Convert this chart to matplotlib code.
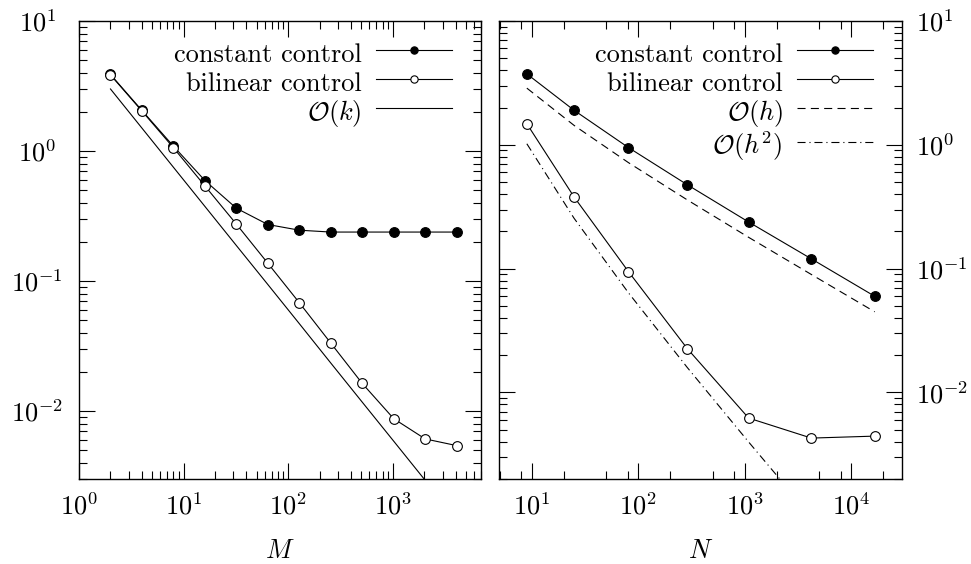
import numpy as np
import matplotlib
matplotlib.use("Agg")
import matplotlib.pyplot as plt
from matplotlib.ticker import LogLocator, NullFormatter

# left panel: error vs number of time steps M
M = [2, 4, 8, 16, 32, 64, 128, 256, 512, 1024, 2048, 4096]
err_const_M = [3.88, 2.05, 1.09, 0.593, 0.363, 0.272, 0.246, 0.238, 0.238, 0.238, 0.238, 0.238]
err_bilin_M = [3.85, 2.03, 1.06, 0.539, 0.274, 0.137, 0.0681, 0.0333, 0.0163, 0.00873, 0.00610, 0.00542]
ref_k = [3.0, 1.5, 0.75, 0.375, 0.1875, 0.094, 0.047, 0.0234, 0.0117, 0.00586, 0.00293, 0.00146]

# right panel: error vs number of spatial nodes N
N = [9, 25, 81, 289, 1089, 4225, 16641]
err_const_N = [3.74, 1.90, 0.95, 0.476, 0.238, 0.120, 0.0598]
err_bilin_N = [1.48, 0.379, 0.0946, 0.0226, 0.00621, 0.00428, 0.00444]
ref_h = [2.87, 1.435, 0.718, 0.359, 0.179, 0.0897, 0.0448]
ref_h2 = [1.02, 0.255, 0.0638, 0.0159, 0.00398, 0.000996, 0.000249]

plt.rcParams['font.family'] = 'serif'
plt.rcParams['font.serif'] = ['cmr10']
plt.rcParams['mathtext.fontset'] = 'cm'
plt.rcParams['axes.formatter.use_mathtext'] = True
plt.rcParams['font.size'] = 19
plt.rcParams['lines.scale_dashes'] = False

fig = plt.figure(figsize=(9.71, 5.64), dpi=100)
ax1 = fig.add_axes([79 / 971, 85 / 564, 402 / 971, 458 / 564])
ax2 = fig.add_axes([499 / 971, 85 / 564, 403 / 971, 458 / 564])

lw = 0.8
mk = dict(markersize=7.0, markeredgewidth=0.8)

ax1.plot(M, err_const_M, '-o', color='black', lw=lw, mfc='black', label='constant control', **mk)
ax1.plot(M, err_bilin_M, '-o', color='black', lw=lw, mfc='white', label='bilinear control', **mk)
ax1.plot(M, ref_k, '-', color='black', lw=lw, label=r'$\mathcal{O}(k)$')

ax2.plot(N, err_const_N, '-o', color='black', lw=lw, mfc='black', label='constant control', **mk)
ax2.plot(N, err_bilin_N, '-o', color='black', lw=lw, mfc='white', label='bilinear control', **mk)
ax2.plot(N, ref_h, color='black', lw=lw, linestyle=(0, (5.8, 3.8)), label=r'$\mathcal{O}(h)$')
ax2.plot(N, ref_h2, color='black', lw=lw, linestyle=(0, (5.8, 2.8, 0.8, 2.8)), label=r'$\mathcal{O}(h^2)$')

for ax in (ax1, ax2):
    ax.set_xscale('log')
    ax.set_yscale('log')
    for s in ax.spines.values():
        s.set_linewidth(1.0)
    ax.tick_params(which='major', direction='in', length=11.5, width=0.8,
                   top=True, bottom=True, left=True, right=True)
    ax.tick_params(which='minor', direction='in', length=5.8, width=0.8,
                   top=True, bottom=True, left=True, right=True)
    ax.tick_params(axis='x', which='major', pad=10)
    ax.yaxis.set_major_locator(LogLocator(base=10, numticks=10))
    ax.yaxis.set_minor_locator(LogLocator(base=10, subs=np.arange(2, 10), numticks=20))
    ax.yaxis.set_minor_formatter(NullFormatter())
    ax.xaxis.set_minor_formatter(NullFormatter())
    ax.legend(loc='upper right', bbox_to_anchor=(0.927, 0.962), frameon=False, markerfirst=False,
              numpoints=1, handlelength=2.85, handletextpad=0.55, labelspacing=0.0,
              handleheight=1.32, borderpad=0, borderaxespad=0, markerscale=0.75)

ax1.set_xlim(1, 7000)
ax1.set_ylim(3.0e-3, 10)
ax1.xaxis.set_major_locator(LogLocator(base=10, numticks=10))
ax1.xaxis.set_minor_locator(LogLocator(base=10, subs=np.arange(2, 10), numticks=20))
ax1.tick_params(axis='y', which='major', pad=30)
for lab in ax1.get_yticklabels():
    lab.set_horizontalalignment('center')
ax1.set_xlabel('$M$', labelpad=14)

ax2.set_xlim(4.93, 30000)
ax2.set_ylim(2.0e-3, 10)
ax2.xaxis.set_major_locator(LogLocator(base=10, numticks=10))
ax2.xaxis.set_minor_locator(LogLocator(base=10, subs=[2, 5, 8], numticks=20))
ax2.yaxis.tick_right()
ax2.tick_params(axis='y', which='both', left=True, right=True, labelleft=False, labelright=True, pad=10)
ax2.set_xlabel('$N$', labelpad=14)

fig.savefig('out.png', dpi=100)
